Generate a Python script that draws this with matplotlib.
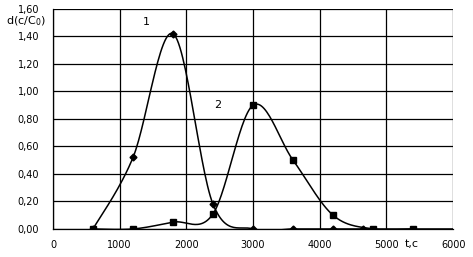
import numpy as np
import matplotlib
matplotlib.use("Agg")
import matplotlib.pyplot as plt

# data
t1 = [600, 1200, 1800, 2400, 3000, 3600, 4200, 4650, 6000]
d1 = [0.0, 0.52, 1.42, 0.18, 0.0, 0.0, 0.0, 0.0, 0.0]
t2 = [600, 1200, 1800, 2400, 3000, 3600, 4200, 4800, 5400]
d2 = [0.0, 0.0, 0.05, 0.11, 0.90, 0.50, 0.10, 0.0, 0.0]

xticks = [0, 1000, 2000, 3000, 4000, 5000, 6000]
yticks = [0.0, 0.2, 0.4, 0.6, 0.8, 1.0, 1.2, 1.4, 1.6]


def smooth(x, y, n=30):
    # excel-like smoothed line (catmull-rom as bezier)
    x = np.asarray(x, float)
    y = np.asarray(y, float)
    px = np.concatenate([[x[0]], x, [x[-1]]])
    py = np.concatenate([[y[0]], y, [y[-1]]])
    xs, ys = [], []
    s = np.linspace(0, 1, n)
    for i in range(1, len(px) - 2):
        p0 = np.array([px[i], py[i]])
        p3 = np.array([px[i + 1], py[i + 1]])
        c1 = p0 + (np.array([px[i + 1], py[i + 1]]) - np.array([px[i - 1], py[i - 1]])) / 6
        c2 = p3 - (np.array([px[i + 2], py[i + 2]]) - np.array([px[i], py[i]])) / 6
        b = ((1 - s) ** 3)[:, None] * p0 + (3 * (1 - s) ** 2 * s)[:, None] * c1 \
            + (3 * (1 - s) * s ** 2)[:, None] * c2 + (s ** 3)[:, None] * p3
        xs.extend(b[:, 0])
        ys.extend(b[:, 1])
    return xs, ys


fig = plt.figure(figsize=(4.73, 2.57), dpi=100)
ax = fig.add_axes([0.112, 0.109, 0.846, 0.856])

sx, sy = smooth(t1, d1)
ax.plot(sx, sy, color="black", lw=1.1, zorder=3)
ax.plot(t1[:-1], d1[:-1], "D", color="black", ms=3.5, zorder=4)
sx, sy = smooth(t2, d2)
ax.plot(sx, sy, color="black", lw=1.1, zorder=3)
ax.plot(t2, d2, "s", color="black", ms=4.5, zorder=4)

ax.set_xlim(0, 6000)
ax.set_ylim(0, 1.6)
ax.set_xticks(xticks)
ax.set_yticks(yticks)
ax.set_yticklabels([("%.2f" % v).replace(".", ",") for v in yticks])
ax.grid(True, color="black", lw=0.9)
ax.set_axisbelow(True)
for s in ["top", "right"]:
    ax.spines[s].set_visible(False)
ax.spines["left"].set_linewidth(0.9)
ax.spines["bottom"].set_linewidth(0.9)
ax.tick_params(length=0, labelsize=7, pad=8)
ax.tick_params(axis="y", pad=10)

ax.text(1350, 1.48, "1", fontsize=8)
ax.text(2420, 0.88, "2", fontsize=8)
fig.text(0.012, 0.905, "d(c/C$_0$)", fontsize=8, va="baseline")
fig.text(0.855, 0.04, "t,c", fontsize=8)

fig.savefig("out.png", dpi=100)
